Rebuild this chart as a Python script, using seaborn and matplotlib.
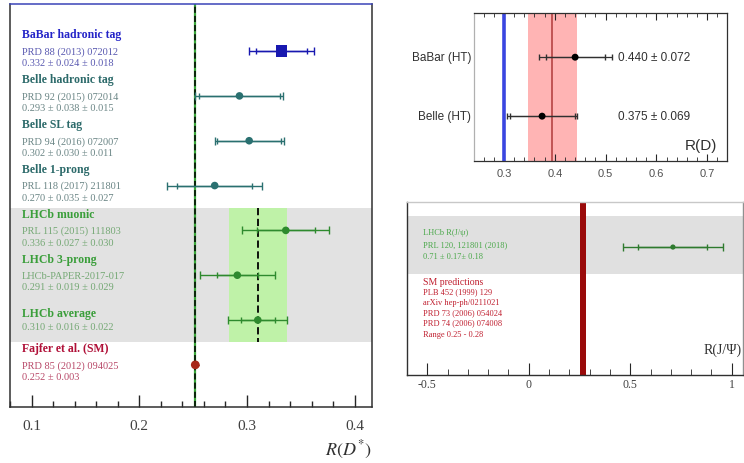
import numpy as np
import pandas as pd
import matplotlib
matplotlib.use("Agg")
import matplotlib.pyplot as plt
from matplotlib.ticker import MultipleLocator
import seaborn as sns

# ── Data ─────────────────────────────────────────────────────
rdst_names = ["BaBar hadronic tag", "Belle hadronic tag", "Belle SL tag",
              "Belle 1-prong", "LHCb muonic", "LHCb 3-prong",
              "LHCb average", "Fajfer et al. (SM)"]
rdst_refs = ["PRD 88 (2013) 072012", "PRD 92 (2015) 072014",
             "PRD 94 (2016) 072007", "PRL 118 (2017) 211801",
             "PRL 115 (2015) 111803", "LHCb-PAPER-2017-017", "",
             "PRD 85 (2012) 094025"]
rdst_val = [0.332, 0.293, 0.302, 0.270, 0.336, 0.291, 0.310, 0.252]
rdst_stat = [0.024, 0.038, 0.030, 0.035, 0.027, 0.019, 0.016, 0.003]
rdst_syst = [0.018, 0.015, 0.011, 0.027, 0.030, 0.029, 0.022, 0.0]
rdst_sm = 0.252
rdst_lhcb_avg = 0.310
rdst_lhcb_err = 0.027

rd_names = ["BaBar (HT)", "Belle (HT)"]
rd_val = [0.440, 0.375]
rd_stat = [0.058, 0.064]
rd_tot = [0.072, 0.069]
rd_sm = 0.300
rd_avg = 0.395
rd_avg_err = 0.048

rjpsi_val = 0.71
rjpsi_stat = 0.17
rjpsi_syst = 0.18
rjpsi_lines = ["LHCb R(J/\u03c8)", "PRL 120, 121801 (2018)",
               "0.71 \u00b1 0.17\u00b1 0.18"]
rjpsi_sm_lines = ["SM predictions", "PLB 452 (1999) 129",
                  "arXiv hep-ph/0211021", "PRD 73 (2006) 054024",
                  "PRD 74 (2006) 074008", "Range 0.25 - 0.28"]
rjpsi_sm_lo, rjpsi_sm_hi = 0.25, 0.284

# ── Style ────────────────────────────────────────────────────
sns.set_style("ticks")
plt.rcParams["font.family"] = ["Liberation Serif", "DejaVu Serif"]
plt.rcParams["mathtext.fontset"] = "stix"

title_cols = ["#2424c8", "#2c6a6a", "#2c6a6a", "#2c6a6a",
              "#3a9e3a", "#3a9e3a", "#3a9e3a", "#b01038"]
sub_cols = ["#5858b0", "#6a8585", "#6a8585", "#6a8585",
            "#74a874", "#74a874", "#74a874", "#b84868"]
mark_cols = ["#1818b0", "#2a7070", "#2a7070", "#2a7070",
             "#2e8a2e", "#2e8a2e", "#2e8a2e", "#a8281a"]

fig = plt.figure(figsize=(7.44, 4.64), dpi=100)

# ── Left: R(D*) ──────────────────────────────────────────────
ax = fig.add_axes([0.0134, 0.1207, 0.4866, 0.8685])
rows = np.arange(len(rdst_val))
df = pd.DataFrame({"val": rdst_val, "row": rows,
                   "tot": np.hypot(rdst_stat, rdst_syst)})

ax.axhspan(3.5, 6.5, color="#e2e2e2", zorder=0, lw=0)
ax.fill_betweenx([3.5, 6.5], rdst_lhcb_avg - rdst_lhcb_err,
                 rdst_lhcb_avg + rdst_lhcb_err, color="#bff2a8",
                 zorder=1, lw=0)
ax.vlines(rdst_lhcb_avg, 3.5, 6.5, color="black", ls=(0, (4, 2)),
          lw=1.3, zorder=2)
ax.axvline(rdst_sm, color="#3aa83a", lw=1.6, zorder=2)
ax.axvline(rdst_sm, color="black", ls=(0, (4, 2)), lw=1.1, zorder=2)

for i in rows:
    cap_out = 3 if rdst_syst[i] > 0 else 0
    cap_in = 2 if rdst_syst[i] > 0 else 0
    ax.errorbar(rdst_val[i], i, xerr=df["tot"][i], fmt="none",
                ecolor=mark_cols[i], elinewidth=1, capsize=cap_out, zorder=3)
    ax.errorbar(rdst_val[i], i, xerr=rdst_stat[i], fmt="none",
                ecolor=mark_cols[i], elinewidth=1, capsize=cap_in, zorder=3)
sns.scatterplot(data=df.iloc[1:7], x="val", y="row", hue="row",
                palette=mark_cols[1:7], s=30, ax=ax, legend=False,
                zorder=4, edgecolor="none")
sns.scatterplot(data=df.iloc[7:], x="val", y="row",
                color=mark_cols[7], s=40, ax=ax, legend=False,
                zorder=4, edgecolor="none")
sns.scatterplot(data=df.iloc[:1], x="val", y="row", marker="s",
                color=mark_cols[0], s=70, ax=ax, legend=False,
                zorder=4, edgecolor="none")

tr = ax.get_yaxis_transform()
for i in rows:
    if rdst_syst[i] > 0:
        vtxt = f"{rdst_val[i]:.3f} \u00b1 {rdst_stat[i]:.3f} \u00b1 {rdst_syst[i]:.3f}"
    else:
        vtxt = f"{rdst_val[i]:.3f} \u00b1 {rdst_stat[i]:.3f}"
    if rdst_refs[i]:
        ax.text(0.033, i - 0.37, rdst_names[i], transform=tr,
                color=title_cols[i], fontsize=8.5, fontweight="bold",
                va="center")
        ax.text(0.033, i, rdst_refs[i], transform=tr,
                color=sub_cols[i], fontsize=7.5, va="center")
        ax.text(0.033, i + 0.26, vtxt, transform=tr,
                color=sub_cols[i], fontsize=7.5, va="center")
    else:
        ax.text(0.033, i - 0.16, rdst_names[i], transform=tr,
                color=title_cols[i], fontsize=8.5, fontweight="bold",
                va="center")
        ax.text(0.033, i + 0.15, vtxt, transform=tr,
                color=sub_cols[i], fontsize=7.5, va="center")

ax.set_xlim(0.08, 0.416)
ax.set_ylim(7.94, -1.05)
ax.set_yticks([])
ax.set_ylabel("")
ax.set_xticks([0.1, 0.2, 0.3, 0.4])
ax.set_xticklabels(["0.1", "0.2", "0.3", "0.4"])
ax.xaxis.set_minor_locator(MultipleLocator(0.02))
ax.tick_params(axis="x", which="major", direction="in", length=9,
               width=1, labelsize=11, labelcolor="#404040", pad=9)
ax.tick_params(axis="x", which="minor", direction="in", length=4.5, width=1)
ax.set_xlabel("$R(D^{*})$", loc="right", fontsize=13, color="#303030",
              labelpad=4)
for s in ax.spines.values():
    s.set_linewidth(1.1)
    s.set_color("#303030")
ax.spines["top"].set_color("#3a44b8")

# ── Top right: R(D) ──────────────────────────────────────────
bx = fig.add_axes([0.6371, 0.6509, 0.3401, 0.319])
rd_rows = np.arange(len(rd_val))
bx.axvspan(rd_avg - rd_avg_err, rd_avg + rd_avg_err, color="#ffb4b4",
           lw=0, zorder=0)
bx.axvline(rd_avg, color="#b03a3a", lw=1.1, zorder=1)
bx.axvline(rd_sm, color="#3a46e0", lw=2.6, zorder=1)
btr = bx.get_yaxis_transform()
for i in rd_rows:
    bx.errorbar(rd_val[i], i, xerr=rd_tot[i], fmt="none", ecolor="#303030",
                elinewidth=0.9, capsize=2.5, zorder=2)
    bx.errorbar(rd_val[i], i, xerr=rd_stat[i], fmt="none", ecolor="#303030",
                elinewidth=0.9, capsize=2, zorder=2)
    bx.text(0.57, i, f"{rd_val[i]:.3f} \u00b1 {rd_tot[i]:.3f}",
            transform=btr, fontsize=8.5, family="Liberation Sans",
            color="#303030", va="center")
    bx.text(-0.01, i, rd_names[i], transform=btr,
            fontsize=8.5, family="Liberation Sans", color="#303030",
            va="center", ha="right")
sns.scatterplot(x=rd_val, y=rd_rows, color="black", s=25, ax=bx,
                zorder=3, edgecolor="none")
bx.text(0.96, 0.11, "R(D)", transform=bx.transAxes, ha="right",
        va="center", fontsize=11, family="Liberation Sans",
        color="#303030")
bx.set_xlim(0.241, 0.739)
bx.set_ylim(1.76, -0.75)
bx.set_yticks([])
bx.set_xticks([0.3, 0.4, 0.5, 0.6, 0.7])
bx.set_xticklabels(["0.3", "0.4", "0.5", "0.6", "0.7"],
                   family="Liberation Sans")
bx.xaxis.set_minor_locator(MultipleLocator(0.02))
bx.tick_params(axis="x", which="both", direction="in", top=True,
               labelsize=8, labelcolor="#505050", pad=5)
bx.tick_params(axis="x", which="major", length=5)
bx.tick_params(axis="x", which="minor", length=3)
for s in bx.spines.values():
    s.set_linewidth(0.9)
    s.set_color("#303030")
bx.spines["left"].set_color("#b0b0b0")

# ── Bottom right: R(J/psi) ───────────────────────────────────
cx = fig.add_axes([0.547, 0.1897, 0.4516, 0.3728])
cx.axhspan(-0.69, 0.6, color="#e0e0e0", lw=0, zorder=0)
cx.axvspan(rjpsi_sm_lo, rjpsi_sm_hi, color="#9a0a0a", lw=0, zorder=1)
rj_tot = np.hypot(rjpsi_stat, rjpsi_syst)
cx.errorbar(rjpsi_val, 0, xerr=rj_tot, fmt="none", ecolor="#2e7a2e",
            elinewidth=1, capsize=3, zorder=2)
cx.errorbar(rjpsi_val, 0, xerr=rjpsi_stat, fmt="none", ecolor="#2e7a2e",
            elinewidth=1, capsize=2, zorder=2)
sns.scatterplot(x=[rjpsi_val], y=[0], color="#2e7a2e", s=14, ax=cx,
                zorder=3, edgecolor="none")
ctr = cx.get_yaxis_transform()
for k, line in enumerate(rjpsi_lines):
    cx.text(0.048, -0.33 + 0.265 * k, line, transform=ctr, fontsize=6,
            color="#4aa84a", va="center")
for k, line in enumerate(rjpsi_sm_lines):
    cx.text(0.048, 0.76 + 0.225 * k + (0.05 if k == 5 else 0), line,
            transform=ctr, fontsize=6 if k else 7, color="#c02030",
            va="center")
cx.text(0.995, 0.15, "R(J/\u03a8)", transform=cx.transAxes, ha="right",
        va="center", fontsize=10, color="#303030")
cx.set_xlim(-0.6, 1.055)
cx.set_ylim(2.84, -1.0)
cx.set_yticks([])
cx.set_xticks([-0.5, 0, 0.5, 1])
cx.set_xticklabels(["-0.5", "0", "0.5", "1"])
cx.xaxis.set_minor_locator(MultipleLocator(0.1))
cx.tick_params(axis="x", which="major", direction="in", length=9,
               labelsize=8.5, labelcolor="#404040", pad=2)
cx.tick_params(axis="x", which="minor", direction="in", length=4.5)
for s in cx.spines.values():
    s.set_linewidth(1)
    s.set_color("#303030")
cx.spines["top"].set_color("#c8c8c8")
cx.spines["right"].set_color("#909090")

fig.savefig("out.png", dpi=100)
